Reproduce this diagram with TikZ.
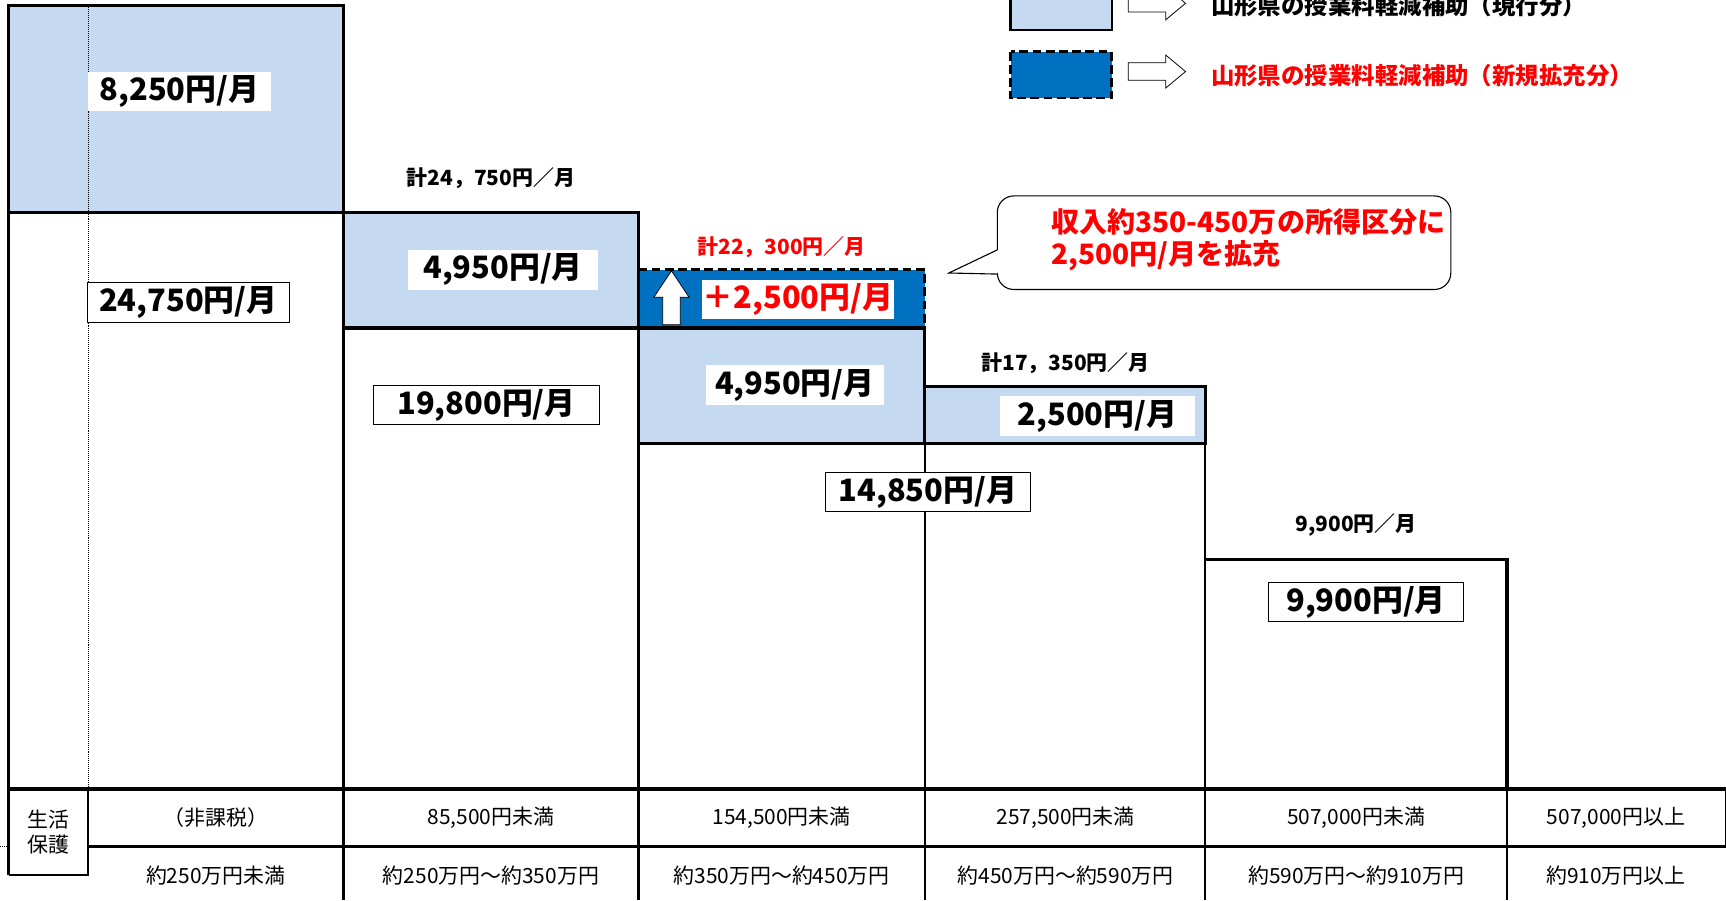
\documentclass[tikz,border=0pt]{standalone}
\usepackage{fontspec}
\setmainfont{Noto Sans CJK JP}
\usetikzlibrary{positioning}

\definecolor{lightblue}{HTML}{C5D9F1}
\definecolor{deepblue}{HTML}{0070C0}
\newcommand{\amountfont}{\fontsize{28}{32}\selectfont\bfseries}
\newcommand{\totalfont}{\fontsize{19}{22}\selectfont\bfseries}
\newcommand{\cellfont}{\fontsize{19}{23}\selectfont}
\newcommand{\notefont}{\fontsize{21.3}{24}\selectfont\bfseries}
\newcommand{\callfont}{\fontsize{25.5}{29}\selectfont\bfseries}

\begin{document}
\begin{tikzpicture}[x=1pt,y=-1pt,
  edge/.style={line width=2.8pt},
  rule/.style={line width=2pt},
  dash line/.style={line width=2.8pt,dash pattern=on 8pt off 4pt},
  amount/.style={fill=white,inner sep=0pt,minimum height=36,font=\amountfont},
  framed/.style={amount,draw,line width=0.8pt},
  total/.style={font=\totalfont},
  cell/.style={font=\cellfont},
  hollow/.style={draw,fill=white,line width=0.7pt}]

\useasboundingbox (0,0) rectangle (1568,818);

% bars
\fill[lightblue] (8,5) rectangle (312,193);
\fill[lightblue] (312,193) rectangle (580,298);
\fill[deepblue] (580,245) rectangle (840,298);
\fill[lightblue] (580,298) rectangle (840,403);
\fill[lightblue] (840,351) rectangle (1095,403);

\draw[densely dotted,line width=0.8pt] (80,5) -- (80,717);

% steps
\draw[edge] (8,795) -- (8,5) -- (312,5) -- (312,193);
\draw[edge] (8,193) -- (580,193) -- (580,298);
\draw[edge] (312,298) -- (840,298) -- (840,403);
\draw[dash line] (580,245) -- (840,245) -- (840,298);
\draw[edge] (580,403) -- (1095,403) -- (1095,351) -- (840,351);
\draw[edge] (1095,508) -- (1369,508) -- (1369,717);
\draw[rule] (312,193) -- (312,818) (580,298) -- (580,818)
            (840,403) -- (840,818) (1095,403) -- (1095,818);

% table
\draw[line width=3.5pt] (8,717) -- (1568,717);
\draw[line width=3pt] (80,769) -- (1568,769);
\draw[rule] (1369,717) -- (1369,818) (1568,717) -- (1568,769);
\draw[rule] (80,717) -- (80,795) -- (8,795);
\draw[densely dotted,line width=0.8pt] (0,769) -- (7,769);

% up arrow
\draw[hollow] (610,246) -- (626,270) -- (618,270) -- (618,295)
  -- (602,295) -- (602,270) -- (594,270) -- cycle;

% amounts
\node[amount,minimum width=167] (a1) at (163,83) {8,250円/月};
\node[framed,minimum width=184] (b1) at (171,275) {24,750円/月};
\node[amount,minimum width=172] (a2) at (457,245) {4,950円/月};
\node[framed,minimum width=206] (b2) at (442,368) {19,800円/月};
\node[amount,minimum width=175,text=red] (n3) at (725,272) {＋2,500円/月};
\node[amount,minimum width=162] (a3) at (722,350) {4,950円/月};
\node[framed,minimum width=187] (b3) at (843,447) {14,850円/月};
\node[amount,minimum width=177] (a4) at (997,378) {2,500円/月};
\node[framed,minimum width=177] (b5) at (1241,547) {9,900円/月};

% totals
\node[total] (t2) at (446,162) {計24，750円／月};
\node[total,text=red] (t3) at (710,225) {計22，300円／月};
\node[total] (t4) at (968,330) {計17，350円／月};
\node[total] (t5) at (1232,477) {9,900円／月};

% callout
\draw[line width=1pt,rounded corners=15pt] (906,227) -- (906,178) -- (1318,178)
  -- (1318,263) -- (906,263) -- (906,249);
\draw[line width=1pt] (906,227) -- (862,248) -- (906,249);
\node[font=\callfont,text=red,align=left,anchor=north west,inner sep=0pt]
  (call) at (955,189) {収入約350-450万の所得区分に\\2,500円/月を拡充};

% legend
\fill[lightblue] (918,-16) rectangle (1010,27);
\draw[line width=2pt] (918,-16) rectangle (1010,27);
\fill[deepblue] (918,47) rectangle (1010,89);
\draw[line width=2.5pt,dash pattern=on 8pt off 4pt] (918,47) rectangle (1010,89);
\draw[hollow] (1025,-5) -- (1059,-5) -- (1059,-12) -- (1077,3) -- (1059,18)
  -- (1059,11) -- (1025,11) -- cycle;
\draw[hollow] (1025,57) -- (1059,57) -- (1059,50) -- (1077,65) -- (1059,80)
  -- (1059,73) -- (1025,73) -- cycle;
\node[font=\notefont,anchor=west,inner sep=0pt] (l1) at (1100,5) {山形県の授業料軽減補助（現行分）};
\node[font=\notefont,anchor=west,inner sep=0pt,text=red] (l2) at (1100,69) {山形県の授業料軽減補助（新規拡充分）};

% table cells
\node[cell,align=center,inner sep=0pt] (c0) at (44,756) {生活\\保護};
\foreach \x/\top/\bot in {196/{（非課税）}/{約250万円未満},
    446/{85,500円未満}/{約250万円～約350万円},
    710/{154,500円未満}/{約350万円～約450万円},
    968/{257,500円未満}/{約450万円～約590万円},
    1232/{507,000円未満}/{約590万円～約910万円},
    1468/{507,000円以上}/{約910万円以上}}
  {\node[cell] at (\x,743) {\top};
   \node[cell] at (\x,795) {\bot};}
\end{tikzpicture}
\end{document}
